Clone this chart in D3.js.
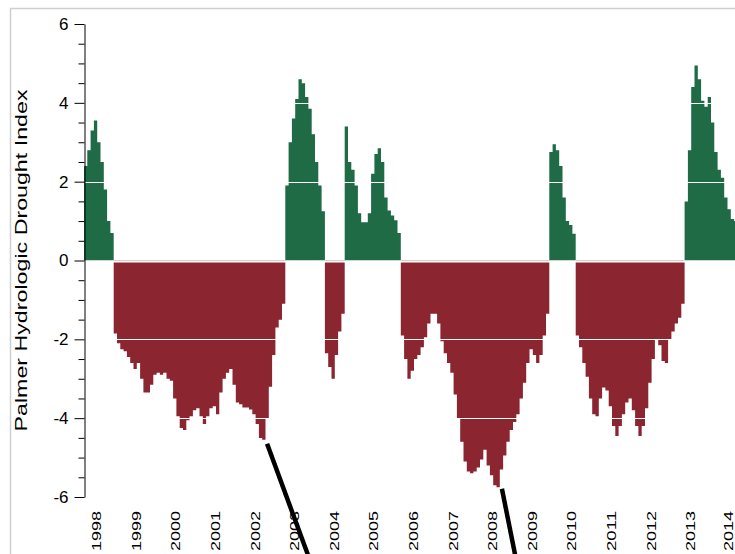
<!DOCTYPE html>
<html>
<head>
<meta charset="utf-8">
<script src="https://cdn.jsdelivr.net/npm/d3@7"></script>
<style>
  body { margin: 0; background: #fff; }
  svg { display: block; font-family: "Liberation Sans", Arial, sans-serif; }
</style>
</head>
<body>
<div id="chart"></div>
<script>
// monthly PHDI values, first month = March 1998
const startYear = 1998, startMonth = 2;
const phdi = [
  2.4, 2.8, 3.3, 3.55, 3.0, 2.5, 1.8, 1.0, 0.7,
  -1.85, -2.1, -2.25, -2.3, -2.45, -2.6, -2.75, -2.6, -3.0, -3.35,
  -3.35, -3.15, -2.9, -2.85, -2.9, -2.85, -3.0, -3.05, -3.5, -3.95,
  -4.25, -4.3, -4.05, -3.95, -3.8, -3.75, -3.95, -4.15, -3.95, -3.75,
  -3.7, -3.9, -3.35, -3.0, -2.85, -2.75, -3.15, -3.6, -3.65, -3.73,
  -3.73, -3.78, -3.9, -4.15, -4.5, -4.55, -4.0, -3.2, -2.4, -1.7,
  -1.5, -1.1,
  1.9, 3.0, 3.6, 4.1, 4.6, 4.5, 4.15, 3.85, 3.2, 2.5, 1.9, 1.25,
  -2.35, -2.7, -3.0, -2.4, -1.8, -1.35,
  3.4, 2.5, 2.3, 1.9, 1.2, 0.97, 0.97, 1.2, 2.2, 2.7, 2.85, 2.5,
  1.6, 1.27, 1.14, 1.02, 0.7,
  -1.9, -2.5, -3.0, -2.8, -2.5, -2.4, -2.2, -1.95, -1.6, -1.35,
  -1.35, -1.6, -2.05, -2.35, -2.6, -2.85, -3.4, -4.0, -4.6, -5.1,
  -5.35, -5.4, -5.35, -5.25, -5.05, -4.8, -5.2, -5.45, -5.7, -5.75,
  -5.3, -4.95, -4.6, -4.3, -4.1, -3.9, -3.5, -3.1, -2.6, -2.25,
  -2.4, -2.6, -2.4, -1.9, -1.35,
  2.75, 2.95, 2.8, 2.4, 1.6, 1.0, 0.9, 0.68,
  -1.9, -2.2, -2.6, -2.95, -3.5, -3.9, -3.95, -3.5, -3.22, -3.3,
  -3.7, -4.2, -4.45, -4.2, -3.9, -3.6, -3.5, -3.8, -4.2, -4.45,
  -4.2, -3.75, -3.1, -2.5, -2.0, -2.15, -2.55, -2.6, -2.0, -1.8,
  -1.6, -1.45, -1.1,
  1.5, 2.8, 4.4, 4.95, 4.6, 4.05, 3.9, 4.15, 3.5, 2.75, 2.3, 2.1,
  1.6, 1.3, 1.05, 1.0
];
const years = d3.range(1998, 2015);
const majorTicks = [-6, -4, -2, 0, 2, 4, 6];
const gridValues = [-4, -2, 2, 4];
// pointer lines: [from, to] in (year, index value)
const pointers = [
  [[2002.79, -4.65], [2003.87, -7.6]],
  [[2008.72, -5.79], [2009.08, -7.6]]
];

const width = 735, height = 554;
const green = "#1e6b46", red = "#8b2530";

// one point per month, plus a closing point for the last step
const pts = phdi.map((v, i) => ({ t: startYear + (startMonth + i) / 12, v: v }));
pts.push({ t: startYear + (startMonth + phdi.length) / 12, v: phdi[phdi.length - 1] });

const x = d3.scaleLinear()
  .domain([startYear + startMonth / 12, startYear + startMonth / 12 + 1])
  .range([84, 123.6]);
const y = d3.scaleLinear().domain([-6, 6]).range([497, 24]);

const svg = d3.select("#chart").append("svg")
  .attr("width", width)
  .attr("height", height);

// outer frame
svg.append("rect")
  .attr("x", 10.5).attr("y", 8.5)
  .attr("width", 900).attr("height", 700)
  .attr("fill", "none")
  .attr("stroke", "#cfcfcf")
  .attr("stroke-width", 1.5);

// stepped areas, positive and negative
const posArea = d3.area()
  .curve(d3.curveStepAfter)
  .x(d => x(d.t))
  .y0(y(0))
  .y1(d => y(Math.max(d.v, 0)));

const negArea = d3.area()
  .curve(d3.curveStepAfter)
  .x(d => x(d.t))
  .y0(y(0))
  .y1(d => y(Math.min(d.v, 0)));

svg.append("path").datum(pts).attr("d", posArea).attr("fill", green);
svg.append("path").datum(pts).attr("d", negArea).attr("fill", red);

// white grid lines over bars
svg.append("g")
  .selectAll("line")
  .data(gridValues)
  .join("line")
  .attr("x1", 85).attr("x2", width)
  .attr("y1", d => Math.round(y(d)) + 0.5)
  .attr("y2", d => Math.round(y(d)) + 0.5)
  .attr("stroke", "#fff")
  .attr("stroke-width", 1.2);

svg.append("line")
  .attr("x1", 85).attr("x2", width)
  .attr("y1", y(0) + 1).attr("y2", y(0) + 1)
  .attr("stroke", "#fff")
  .attr("stroke-width", 2);

// y axis
const minorTicks = d3.range(-6, 6.01, 0.5).filter(d => d % 2 !== 0);

svg.append("g")
  .attr("transform", "translate(84.5,0)")
  .call(d3.axisLeft(y).tickValues(minorTicks).tickSize(6).tickSizeOuter(0).tickFormat(""))
  .call(g => g.select(".domain").remove());

svg.append("g")
  .attr("transform", "translate(84.5,0)")
  .call(d3.axisLeft(y).tickValues(majorTicks).tickSize(10).tickSizeOuter(0).tickPadding(6))
  .call(g => g.selectAll("text")
    .attr("font-size", 17)
    .attr("font-family", "Liberation Sans, Arial, sans-serif")
    .text(d => d < 0 ? "-" + Math.abs(d) : d));

// x axis labels (year centres); last one nudged so it stays inside
svg.append("g")
  .attr("transform", "translate(0,511)")
  .call(d3.axisBottom(x).tickValues(years.map(d => d + 0.5)).tickSize(0).tickFormat(d => Math.floor(d)))
  .call(g => g.select(".domain").remove())
  .call(g => g.selectAll("text")
    .attr("y", 0).attr("dy", null)
    .attr("transform", (d, i) => `translate(${i === years.length - 1 ? 2 : 3.5},0) rotate(-90)`)
    .attr("text-anchor", "end")
    .attr("font-size", 12.5)
    .attr("font-family", "Liberation Sans, Arial, sans-serif")
    .attr("textLength", 40)
    .attr("lengthAdjust", "spacingAndGlyphs"));

// y title
svg.append("text")
  .attr("transform", `translate(27,${(y(6) + y(-6)) / 2}) rotate(-90)`)
  .attr("text-anchor", "middle")
  .attr("font-size", 16)
  .attr("textLength", 342)
  .attr("lengthAdjust", "spacingAndGlyphs")
  .text("Palmer Hydrologic Drought Index");

// pointer lines
svg.append("g")
  .selectAll("line")
  .data(pointers)
  .join("line")
  .attr("x1", d => x(d[0][0])).attr("y1", d => y(d[0][1]))
  .attr("x2", d => x(d[1][0])).attr("y2", d => y(d[1][1]))
  .attr("stroke", "#000")
  .attr("stroke-width", 4.5);
</script>
</body>
</html>
